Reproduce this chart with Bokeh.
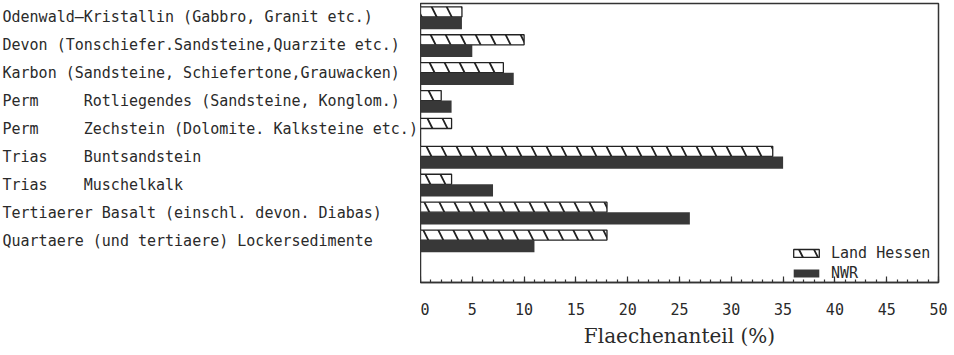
from bokeh.plotting import figure
from bokeh.models import (ColumnDataSource, FactorRange, Range1d,
                          SingleIntervalTicker, Legend, LegendItem)
from bokeh.layouts import row
from bokeh.transform import dodge
from bokeh.core.properties import value
from bokeh.embed import file_html
from bokeh.resources import INLINE

NB = "\u00a0"
categories = [
    "Odenwald\u2014Kristallin (Gabbro, Granit etc.)",
    "Devon (Tonschiefer.Sandsteine,Quarzite etc.)",
    "Karbon (Sandsteine, Schiefertone,Grauwacken)",
    "Perm" + NB * 5 + "Rotliegendes (Sandsteine, Konglom.)",
    "Perm" + NB * 5 + "Zechstein (Dolomite. Kalksteine etc.)",
    "Trias" + NB * 4 + "Buntsandstein",
    "Trias" + NB * 4 + "Muschelkalk",
    "Tertiaerer Basalt (einschl. devon. Diabas)",
    "Quartaere (und tertiaere) Lockersedimente",
]
land_hessen = [4, 10, 8, 2, 3, 34, 3, 18, 18]
nwr = [4, 5, 9, 3, 0, 35, 7, 26, 11]
x_ticks_interval = 5
x_label = "Flaechenanteil (%)"

src = ColumnDataSource(dict(cat=categories, land=land_hessen, nwr=nwr,
                            lx=[2] * len(categories)))

TXT = "#2a2a2a"
DARK = "#383838"
MONO = "DejaVu Sans Mono"
H = 350
TOP = 3
BOTTOM = 61

yr = FactorRange(factors=[" "] + categories[::-1], range_padding=0)

# left panel with the category labels
pl = figure(width=420, height=H, output_backend="svg", toolbar_location=None,
            y_range=yr, x_range=Range1d(0, 420),
            min_border_left=0, min_border_right=0, min_border_top=TOP,
            min_border_bottom=BOTTOM)
pl.axis.visible = False
pl.grid.visible = False
pl.outline_line_color = None
pl.background_fill_color = "white"
pl.border_fill_color = "white"
pl.text(x="lx", y="cat", text="cat", source=src, text_align="left",
        text_baseline="middle", text_font=value(MONO),
        text_font_size="15px", text_color=TXT)

# main chart
p = figure(width=534, height=H, output_backend="svg", toolbar_location=None,
           y_range=yr, x_range=Range1d(0, 50),
           min_border_left=0, min_border_right=16, min_border_top=TOP,
           min_border_bottom=BOTTOM)
p.background_fill_color = "white"
p.border_fill_color = "white"
p.outline_line_color = "#333333"
p.outline_line_width = 1.5
p.grid.visible = False
p.yaxis.visible = False

r1 = p.hbar(y=dodge("cat", 0.2, range=p.y_range), right="land", left=0, height=0.36,
            source=src, fill_color="white", line_color="#222222", line_width=1.3,
            hatch_pattern="\\", hatch_scale=30, hatch_weight=1.8, hatch_color="#222222")
r2 = p.hbar(y=dodge("cat", -0.2, range=p.y_range), right="nwr", left=0, height=0.44,
            source=src, fill_color=DARK, line_color=None)

xa = p.xaxis[0]
xa.ticker = SingleIntervalTicker(interval=x_ticks_interval, num_minor_ticks=5)
xa.axis_line_color = "#333333"
xa.axis_line_width = 1.5
xa.major_tick_in = 6
xa.major_tick_out = 0
xa.minor_tick_in = 3
xa.minor_tick_out = 0
xa.major_tick_line_color = "#333333"
xa.minor_tick_line_color = "#333333"
xa.major_tick_line_width = 1.2
xa.minor_tick_line_width = 1.2
xa.major_label_standoff = 20
xa.major_label_text_font = MONO
xa.major_label_text_font_size = "15px"
xa.major_label_text_color = TXT
xa.axis_label = x_label
xa.axis_label_text_font = "DejaVu Serif"
xa.axis_label_text_font_style = "normal"
xa.axis_label_text_font_size = "20px"
xa.axis_label_text_color = TXT
xa.axis_label_standoff = 6

legend = Legend(items=[LegendItem(label="Land Hessen", renderers=[r1]),
                       LegendItem(label="NWR", renderers=[r2])],
                location=(370, 0), glyph_width=32, glyph_height=10,
                label_text_font=MONO, label_text_font_size="15px",
                label_text_color=TXT, label_standoff=9, spacing=2,
                padding=2, margin=0, border_line_color=None,
                background_fill_alpha=0)
p.add_layout(legend)

layout = row(pl, p)
open("out.html", "w").write(file_html(layout, INLINE))
